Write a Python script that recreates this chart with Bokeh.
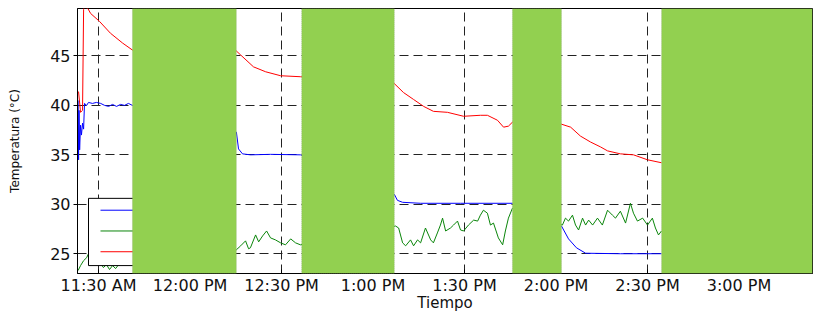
from bokeh.plotting import figure
from bokeh.models import Range1d, FixedTicker, BoxAnnotation
from bokeh.embed import file_html
from bokeh.resources import INLINE

# time in minutes after 11:00 AM
blue_t = [23.3, 23.45, 23.6, 23.8, 24.1, 24.4, 24.75, 25.1, 25.4, 26.1, 26.7, 28.0, 29.3, 30.7, 32.0,
          33.3, 34.6, 35.9, 37.2, 38.5, 39.8, 41.1,
          75.2, 75.9, 77.2, 79.8, 86.4, 96.2,
          127.0, 128.0, 129.7, 135.6, 148.7, 165.7,
          181.8, 184.1, 186.7, 189.7, 201.1, 214.6]
blue_v = [40.5, 34.5, 39.5, 35.5, 38.0, 37.0, 38.2, 37.6, 40.2, 40.0, 40.3, 40.2, 40.3, 40.2, 40.0,
          39.9, 40.1, 39.9, 40.1, 40.0, 40.2, 40.0,
          37.3, 35.6, 35.1, 35.0, 35.05, 35.0,
          31.0, 30.4, 30.2, 30.1, 30.1, 30.1,
          27.8, 26.5, 25.6, 25.05, 25.0, 25.0]

green_t = [23.3, 24.1, 25.1, 26.1, 26.7, 29.0, 30.7, 31.6, 32.6, 33.6, 34.6, 35.6, 36.6, 37.9, 39.2, 41.1,
           75.2, 76.6, 78.2, 79.2, 79.8, 81.5, 82.5, 83.8, 85.1, 86.4, 88.0, 89.7, 91.3, 93.0, 94.6, 96.2,
           127.4, 128.4, 129.7, 130.7, 132.3, 133.3, 134.6, 135.6, 137.2, 138.9, 139.8, 141.1, 142.1,
           142.8, 143.8, 145.4, 146.4, 147.7, 148.7, 149.7, 151.3, 153.0, 154.3, 155.2, 156.2, 157.5,
           158.5, 159.5, 161.1, 162.5, 163.4, 164.4, 165.7,
           182.1, 183.1, 184.1, 185.4, 186.4, 187.4, 188.7, 189.7, 190.7, 192.0, 193.6, 195.2, 196.9,
           198.5, 199.5, 201.1, 202.8, 204.4, 205.4, 206.7, 208.4, 210.0, 211.6, 212.6, 213.6, 214.6]
green_v = [23.3, 23.8, 24.3, 24.6, 25.0, 24.6, 24.0, 23.6, 23.9, 23.4, 23.8, 23.5, 23.9, 24.2, 23.9, 24.3,
           25.4, 25.8, 26.3, 25.5, 25.6, 26.9, 26.2, 26.8, 27.3, 26.6, 26.4, 26.1, 25.9, 26.5, 26.1, 25.9,
           27.8, 27.6, 26.1, 25.8, 26.4, 25.8, 26.4, 26.1, 27.6, 26.4, 26.1, 27.1, 27.9,
           28.6, 27.3, 27.6, 27.9, 28.3, 27.4, 27.3, 27.9, 28.4, 28.3, 28.9, 29.4, 29.1,
           27.9, 28.1, 26.6, 25.9, 27.3, 28.6, 29.6,
           27.9, 28.6, 28.3, 28.9, 27.9, 27.4, 28.6, 27.9, 28.4, 27.9, 28.6, 27.9, 29.4,
           28.9, 28.6, 29.3, 28.1, 30.1, 29.1, 28.3, 28.6, 27.9, 28.6, 27.6, 26.9, 27.3]

red_t = [23.44, 24.1, 24.75, 25.1, 25.3, 26.5, 27.4, 30.3, 33.9, 37.9, 41.1,
         75.2, 76.6, 80.8, 84.8, 89.7, 96.2,
         127.0, 130.0, 133.3, 136.6, 139.8, 144.4, 149.7, 155.2, 157.5, 160.8, 162.8, 164.4, 165.7,
         181.8, 184.8, 188.0, 191.3, 194.6, 196.9, 201.1, 205.4, 210.0, 214.6]
red_v = [41.4, 39.3, 39.5, 49.7, 50.0, 49.8, 49.3, 48.5, 47.3, 46.3, 45.6,
         45.5, 45.1, 43.9, 43.4, 43.0, 42.9,
         42.2, 41.3, 40.6, 39.9, 39.4, 39.3, 38.9, 39.0, 39.0, 38.5, 37.8, 37.9, 38.3,
         38.1, 37.8, 36.9, 36.3, 35.8, 35.4, 35.1, 35.0, 34.5, 34.2]

series_colors = ["#0000FF", "#0A850A", "#FF0000"]
tick_minutes = [30, 60, 90, 120, 150, 180, 210, 240]
tick_labels = ["11:30 AM", "12:00 PM", "12:30 PM", "1:00 PM", "1:30 PM", "2:00 PM", "2:30 PM", "3:00 PM"]
grid_minutes = [30, 90, 150, 210]
y_ticks = [25, 30, 35, 40, 45]
hidden_spans = [(41.1, 75.2), (96.6, 127.0), (165.7, 181.8), (214.6, None)]

FONT = "DejaVu Sans"
X0, X1 = 23.1, 264.1
Y0, Y1 = 23.0, 49.8
FRAME_W, FRAME_H = 735, 268

p = figure(width=814, height=314, output_backend="svg", toolbar_location=None,
           x_range=Range1d(X0, X1), y_range=Range1d(Y0, Y1),
           min_border_left=77, min_border_right=2, min_border_top=8, min_border_bottom=38)
p.background_fill_color = "white"
p.border_fill_color = "white"
p.outline_line_color = "black"
p.outline_line_width = 1

for t, v, c in ((blue_t, blue_v, series_colors[0]),
                (green_t, green_v, series_colors[1]),
                (red_t, red_v, series_colors[2])):
    p.line(t, v, line_color=c, line_width=1)

# legend box (its text side is hidden under the first green mask)
sx = (X1 - X0) / FRAME_W   # minutes per pixel
sy = (Y1 - Y0) / FRAME_H   # degrees per pixel
p.quad(left=[X0 + 11 * sx], right=[X0 + 95 * sx], bottom=[Y0 + 8 * sy], top=[Y0 + 76 * sy],
       fill_color="white", line_color="black", line_width=1)
p.segment(x0=[X0 + 23 * sx] * 3, x1=[X0 + 62 * sx] * 3,
          y0=[Y0 + 64 * sy, Y0 + 43 * sy, Y0 + 22 * sy],
          y1=[Y0 + 64 * sy, Y0 + 43 * sy, Y0 + 22 * sy],
          line_color=series_colors, line_width=1)

p.xaxis.ticker = FixedTicker(ticks=tick_minutes)
p.xaxis.major_label_overrides = {m: l for m, l in zip(tick_minutes, tick_labels)}
p.xaxis.axis_label = "Tiempo"
p.xaxis.major_tick_in = 4
p.xaxis.major_tick_out = 0
p.xaxis.major_label_standoff = 2
p.xaxis.axis_label_standoff = -4
p.xaxis.minor_tick_line_color = None

p.yaxis.ticker = FixedTicker(ticks=y_ticks)
p.yaxis.axis_label = "Temperatura (°C)"
p.yaxis.major_tick_in = 0
p.yaxis.major_tick_out = 4
p.yaxis.major_label_standoff = 3
p.yaxis.axis_label_standoff = 25
p.yaxis.minor_tick_line_color = None

for ax in (p.xaxis, p.yaxis):
    ax.axis_line_color = "black"
    ax.major_tick_line_color = "black"
    ax.major_label_text_font = FONT
    ax.major_label_text_font_size = "16px"
    ax.major_label_text_color = "#111111"
    ax.axis_label_text_font = FONT
    ax.axis_label_text_font_style = "normal"
    ax.axis_label_text_color = "#111111"
p.xaxis.axis_label_text_font_size = "15px"
p.yaxis.axis_label_text_font_size = "12px"

p.xgrid.ticker = FixedTicker(ticks=grid_minutes)
p.ygrid.ticker = FixedTicker(ticks=y_ticks)
for g in (p.xgrid, p.ygrid):
    g.grid_line_color = "#222222"
    g.grid_line_dash = "9 5"
    g.grid_line_width = 1

# opaque green masks
for a, b in hidden_spans:
    kw = dict(left=a, fill_color="#92D050", fill_alpha=1.0, line_color="#808080",
              line_dash="1 1", line_width=1, level="annotation")
    if b is not None:
        kw["right"] = b
    p.add_layout(BoxAnnotation(**kw))

open("out.html", "w").write(file_html(p, INLINE))
